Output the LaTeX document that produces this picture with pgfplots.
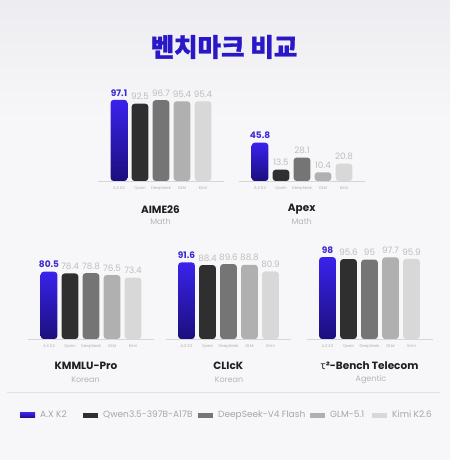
\documentclass[border=0pt]{standalone}
\usepackage{fontspec}
\setmainfont{Poppins}
\newfontfamily\krfont{Noto Sans CJK KR}[BoldFeatures={FakeBold=1.2}]
\newfontfamily\grkfont{Noto Sans}
\usepackage{pgfplots}
\pgfplotsset{compat=1.18}
\definecolor{bg}{HTML}{F7F7F9}
\definecolor{bgtop}{HTML}{EDEDF1}
\definecolor{titleblue}{HTML}{2A18C8}
\definecolor{axTop}{HTML}{3A22EC}
\definecolor{axBot}{HTML}{1B0F7C}
\definecolor{axLabel}{HTML}{3B2AD2}
\definecolor{cQwen}{HTML}{2F2F2F}
\definecolor{cDeep}{HTML}{757575}
\definecolor{cGLM}{HTML}{B0B0B0}
\definecolor{cKimi}{HTML}{D8D8D8}
\definecolor{valGray}{HTML}{BDBDBD}
\definecolor{tickGray}{HTML}{B0B0B0}
\definecolor{baseGray}{HTML}{D6D6D6}
\definecolor{subGray}{HTML}{B5B5B5}
\definecolor{legGray}{HTML}{A6A6A6}
\definecolor{sepGray}{HTML}{E2E2E2}
\pgfplotsset{
  bench/.style={
    ybar, bar width=16.7pt, bar shift=0pt,
    scale only axis, width=126pt, height=93.6pt,
    xmin=-1, xmax=5, ymin=4, ymax=116,
    y filter/.expression={y+4},
    axis x line*=bottom, axis y line=none,
    x axis line style={draw=baseGray, line width=0.6pt},
    xtick={0,1,2,3,4}, xticklabels={A.X K2,Qwen,DeepSeek,GLM,Kimi},
    major tick length=0pt,
    xticklabel style={font=\fontsize{4}{4}\selectfont, text=tickGray, inner sep=0pt, anchor=north, yshift=-5.5pt},
    point meta=explicit symbolic,
    nodes near coords,
    nodes near coords style={anchor=south, inner sep=0pt, yshift=3.5pt, font=\fontsize{8.8}{8.8}\selectfont, text=valGray},
    every axis plot/.append style={draw=none, rounded corners=3pt},
  },
  axbar/.style={top color=axTop, bottom color=axBot, draw=none,
    every node near coord/.append style={font=\bfseries\fontsize{9}{9}\selectfont, text=axLabel}},
}
\begin{document}
\begin{tikzpicture}
\fill[bg] (0pt,0pt) rectangle (450pt,460pt);
\shade[top color=bgtop, bottom color=bg] (0pt,340pt) rectangle (450pt,460pt);
\node[font=\krfont\bfseries\fontsize{25.5}{25.5}\selectfont, text=titleblue] at (224pt,413pt) {벤치마크 비교};
\draw[sepGray, line width=0.6pt] (7pt,68pt) -- (440pt,68pt);

% AIME26
\begin{axis}[bench, at={(98pt,279pt)}, anchor=south west]
\addplot[axbar] coordinates {(0,97.1) [97.1]};
\addplot[fill=cQwen] coordinates {(1,92.5) [92.5]};
\addplot[fill=cDeep] coordinates {(2,96.7) [96.7]};
\addplot[fill=cGLM] coordinates {(3,95.4) [95.4]};
\addplot[fill=cKimi] coordinates {(4,95.4) [95.4]};
\end{axis}

% Apex
\begin{axis}[bench, at={(239pt,279pt)}, anchor=south west]
\addplot[axbar] coordinates {(0,45.8) [45.8]};
\addplot[fill=cQwen] coordinates {(1,13.5) [13.5]};
\addplot[fill=cDeep] coordinates {(2,28.1) [28.1]};
\addplot[fill=cGLM] coordinates {(3,10.4) [10.4]};
\addplot[fill=cKimi] coordinates {(4,20.8) [20.8]};
\end{axis}

% KMMLU-Pro
\begin{axis}[bench, at={(28pt,121pt)}, anchor=south west,
  legend columns=5,
  legend style={at={(-0.0635,-0.815)}, anchor=west, draw=none, fill=none, inner sep=0pt,
    nodes={inner sep=0pt, font=\fontsize{9}{9}\selectfont, text=legGray},
    /tikz/every odd column/.append style={column sep=5pt}},
  legend image code/.code={\fill[#1, sharp corners] (0pt,-2.5pt) rectangle (15pt,2.5pt);}]
\addplot[axbar] coordinates {(0,80.5) [80.5]};
\addlegendentry{\makebox[43pt][l]{A.X K2}}
\addplot[fill=cQwen] coordinates {(1,78.4) [78.4]};
\addlegendentry{\makebox[95pt][l]{Qwen3.5-397B-A17B}}
\addplot[fill=cDeep] coordinates {(2,78.8) [78.8]};
\addlegendentry{\makebox[92pt][l]{DeepSeek-V4 Flash}}
\addplot[fill=cGLM] coordinates {(3,76.5) [76.5]};
\addlegendentry{\makebox[42pt][l]{GLM-5.1}}
\addplot[fill=cKimi] coordinates {(4,73.4) [73.4]};
\addlegendentry{Kimi K2.6}
\end{axis}

% CLIcK
\begin{axis}[bench, at={(165.5pt,121pt)}, anchor=south west]
\addplot[axbar] coordinates {(0,91.6) [91.6]};
\addplot[fill=cQwen] coordinates {(1,88.4) [88.4]};
\addplot[fill=cDeep] coordinates {(2,89.6) [89.6]};
\addplot[fill=cGLM] coordinates {(3,88.8) [88.8]};
\addplot[fill=cKimi] coordinates {(4,80.9) [80.9]};
\end{axis}

% tau2-Bench Telecom
\begin{axis}[bench, at={(306.5pt,121pt)}, anchor=south west]
\addplot[axbar] coordinates {(0,98) [98]};
\addplot[fill=cQwen] coordinates {(1,95.6) [95.6]};
\addplot[fill=cDeep] coordinates {(2,95) [95]};
\addplot[fill=cGLM] coordinates {(3,97.7) [97.7]};
\addplot[fill=cKimi] coordinates {(4,95.9) [95.9]};
\end{axis}

% titles
\tikzset{ttl/.style={font=\bfseries\fontsize{10.5}{10.5}\selectfont, text=black!88, inner sep=0pt},
         sub/.style={font=\fontsize{8}{8}\selectfont, text=subGray, inner sep=0pt}}
\node[ttl] at (160.5pt,250.3pt) {AIME26};
\node[sub] at (160.5pt,238.3pt) {Math};
\node[ttl] at (301.7pt,250.3pt) {Apex};
\node[sub] at (301.7pt,238.3pt) {Math};
\node[ttl] at (86pt,94.3pt) {KMMLU-Pro};
\node[sub] at (85.5pt,80.7pt) {Korean};
\node[ttl] at (228.3pt,94.3pt) {CLIcK};
\node[sub] at (229pt,80.7pt) {Korean};
\node[ttl] at (369.5pt,94.3pt) {{\grkfont\bfseries τ}²-Bench Telecom};
\node[sub] at (371pt,80.7pt) {Agentic};

\pgfresetboundingbox
\useasboundingbox (0pt,0pt) rectangle (450pt,460pt);
\end{tikzpicture}
\end{document}
